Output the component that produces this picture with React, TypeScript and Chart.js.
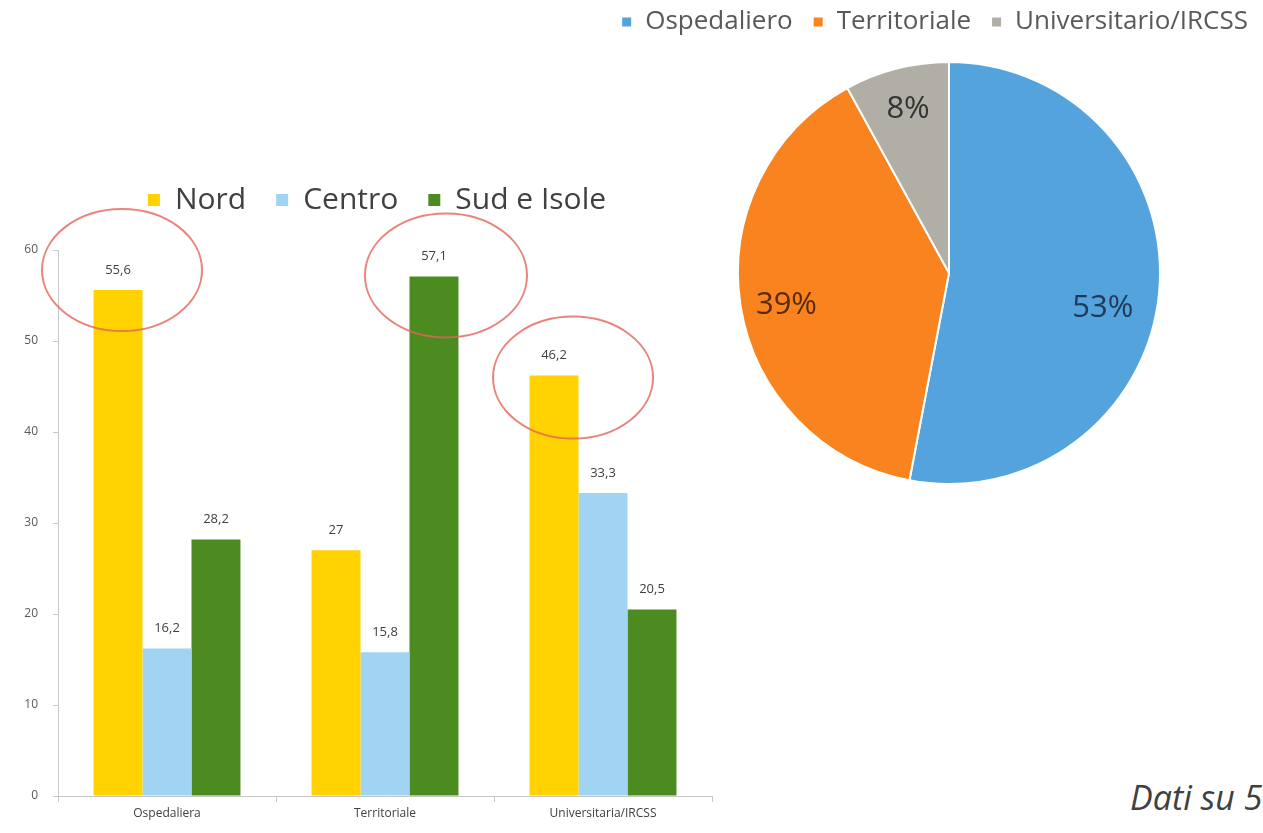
import React, { useEffect, useRef } from "react";
import { Chart, registerables } from "chart.js";

Chart.register(...registerables);

// ---------- Data ----------
const barCategories = ["Ospedaliera", "Territoriale", "Universitaria/IRCSS"];
const barSeriesNames = ["Nord", "Centro", "Sud e Isole"];
const nordValues = [55.6, 27, 46.2];
const centroValues = [16.2, 15.8, 33.3];
const sudValues = [28.2, 57.1, 20.5];
const yTickStep = 10;
const yMax = 60;

const pieLabels = ["Ospedaliero", "Territoriale", "Universitario/IRCSS"];
const pieValues = [53, 39, 8];

const footnoteText = "Dati su 5";

// ---------- Styles ----------
const FONT = '"Open Sans", "Noto Sans", sans-serif';
const barColors = ["#FFD200", "#A0D4F2", "#4B8B1F"];
const pieColors = ["#55A3DD", "#F8831F", "#B1AEA5"];
const pieLabelColors = ["#1E3A57", "#5A2A0C", "#333333"];
const pieLabelOffsets = [
  { dx: -10, dy: 20 },
  { dx: 0, dy: 6 },
  { dx: 0, dy: -4 },
];
// annotation ellipses (dataset index, category index, offsets / radii)
const highlightEllipses = [
  { ds: 0, idx: 0, dx: 4, dy: -20, rx: 80, ry: 61 },
  { ds: 2, idx: 1, dx: 12, dy: -1, rx: 81, ry: 62 },
  { ds: 0, idx: 2, dx: 19, dy: 2, rx: 80, ry: 61 },
];

const fmt = (v: number) => String(v).replace(".", ",");

const barValueLabelsPlugin = {
  id: "barValueLabels",
  afterDatasetsDraw(chart: any) {
    const ctx = chart.ctx;
    ctx.save();
    ctx.font = `13px ${FONT}`;
    ctx.fillStyle = "#404040";
    ctx.textAlign = "center";
    ctx.textBaseline = "middle";
    chart.data.datasets.forEach((ds: any, di: number) => {
      const meta = chart.getDatasetMeta(di);
      meta.data.forEach((bar: any, i: number) => {
        ctx.fillText(fmt(ds.data[i]), bar.x, bar.y - 20);
      });
    });
    ctx.restore();
  },
};

const ellipsePlugin = {
  id: "highlightEllipses",
  afterDatasetsDraw(chart: any) {
    const ctx = chart.ctx;
    ctx.save();
    ctx.strokeStyle = "rgba(228, 100, 90, 0.8)";
    ctx.lineWidth = 2;
    highlightEllipses.forEach((e) => {
      const bar = chart.getDatasetMeta(e.ds).data[e.idx];
      if (!bar) return;
      ctx.beginPath();
      ctx.ellipse(bar.x + e.dx, bar.y + e.dy, e.rx, e.ry, 0, 0, Math.PI * 2);
      ctx.stroke();
    });
    ctx.restore();
  },
};

// legend tweaks: extra height below, edge shifts, unlimited row width
const legendTweakPlugin = (
  extraHeight: number,
  shiftLeft: number,
  shiftRight: number,
  wide: boolean
) => ({
  id: "legendTweak",
  beforeInit(chart: any) {
    const orig = chart.legend.fit;
    chart.legend.fit = function () {
      if (wide) this.maxWidth = 2000;
      orig.call(chart.legend);
      this.height += extraHeight;
    };
  },
  afterLayout(chart: any) {
    if (chart.legend) {
      chart.legend.left += shiftLeft;
      chart.legend.right += shiftRight;
      chart.legend.width = chart.legend.right - chart.legend.left;
    }
  },
});

const pieLabelsPlugin = {
  id: "pieLabels",
  afterDatasetsDraw(chart: any) {
    const ctx = chart.ctx;
    const meta = chart.getDatasetMeta(0);
    const total = pieValues.reduce((a, b) => a + b, 0);
    ctx.save();
    ctx.font = `31px ${FONT}`;
    ctx.textAlign = "center";
    ctx.textBaseline = "middle";
    meta.data.forEach((arc: any, i: number) => {
      const p = arc.getProps(["x", "y", "startAngle", "endAngle", "outerRadius"], true);
      const mid = (p.startAngle + p.endAngle) / 2;
      const r = p.outerRadius * 0.78;
      const off = pieLabelOffsets[i];
      ctx.fillStyle = pieLabelColors[i];
      ctx.fillText(
        Math.round((pieValues[i] / total) * 100) + "%",
        p.x + Math.cos(mid) * r + off.dx,
        p.y + Math.sin(mid) * r + off.dy
      );
    });
    ctx.restore();
  },
};

function BarChart() {
  const ref = useRef<HTMLCanvasElement>(null);
  useEffect(() => {
    if (!ref.current) return;
    const seriesValues = [nordValues, centroValues, sudValues];
    const chart = new Chart(ref.current, {
      type: "bar",
      data: {
        labels: barCategories,
        datasets: barSeriesNames.map((name, i) => ({
          label: name,
          data: seriesValues[i],
          backgroundColor: barColors[i],
          borderWidth: 0,
          categoryPercentage: 0.674,
          barPercentage: 1,
        })),
      },
      options: {
        responsive: false,
        animation: false,
        layout: { padding: { left: 0, right: 40, top: 0, bottom: 0 } },
        plugins: {
          tooltip: { enabled: false },
          legend: {
            position: "top",
            align: "center",
            labels: {
              boxWidth: 12,
              boxHeight: 12,
              padding: 30,
              color: "#404040",
              font: { family: FONT, size: 30 },
            },
          },
        },
        scales: {
          x: {
            grid: {
              offset: true,
              drawOnChartArea: false,
              tickLength: 6,
              color: "#C8C8C8",
            },
            border: { color: "#C8C8C8" },
            ticks: { color: "#404040", font: { family: FONT, size: 12 }, padding: 4 },
            afterFit: (s: any) => {
              s.height = 37;
            },
          },
          y: {
            min: 0,
            max: yMax,
            grid: { drawOnChartArea: false, tickLength: 5, color: "#C8C8C8" },
            border: { color: "#C8C8C8" },
            ticks: {
              stepSize: yTickStep,
              color: "#595959",
              font: { family: FONT, size: 12 },
              padding: 15,
            },
            afterFit: (s: any) => {
              s.width = 58;
            },
          },
        },
      },
      plugins: [barValueLabelsPlugin, ellipsePlugin, legendTweakPlugin(25, 21, 21, false)],
    } as any);
    return () => chart.destroy();
  }, []);
  return (
    <canvas
      ref={ref}
      width={752}
      height={678}
      style={{ position: "absolute", left: 0, top: 155, width: 752, height: 678 }}
    />
  );
}

function PieChart() {
  const ref = useRef<HTMLCanvasElement>(null);
  useEffect(() => {
    if (!ref.current) return;
    const chart = new Chart(ref.current, {
      type: "pie",
      data: {
        labels: pieLabels,
        datasets: [
          {
            data: pieValues,
            backgroundColor: pieColors,
            borderColor: "#FFFFFF",
            borderWidth: 2,
          },
        ],
      },
      options: {
        responsive: false,
        animation: false,
        radius: 211,
        layout: { padding: { left: 55, right: 0, top: 0, bottom: 18 } },
        plugins: {
          tooltip: { enabled: false },
          legend: {
            position: "top",
            align: "end",
            labels: {
              boxWidth: 11,
              boxHeight: 11,
              padding: 20,
              color: "#595959",
              font: { family: FONT, size: 26 },
            },
          },
        },
      },
      plugins: [pieLabelsPlugin, legendTweakPlugin(0, -55, 5, true)],
    } as any);
    return () => chart.destroy();
  }, []);
  return (
    <canvas
      ref={ref}
      width={683}
      height={530}
      style={{ position: "absolute", left: 580, top: -11, width: 683, height: 530 }}
    />
  );
}

export default function App() {
  return (
    <div
      style={{
        position: "fixed",
        left: 0,
        top: 0,
        width: 1263,
        height: 833,
        overflow: "hidden",
        background: "#FFFFFF",
      }}
    >
      <BarChart />
      <PieChart />
      <div
        style={{
          position: "absolute",
          left: 1130,
          top: 779,
          fontFamily: FONT,
          fontStyle: "italic",
          fontSize: 34,
          lineHeight: "36px",
          color: "#404040",
          whiteSpace: "nowrap",
        }}
      >
        {footnoteText}
      </div>
    </div>
  );
}
